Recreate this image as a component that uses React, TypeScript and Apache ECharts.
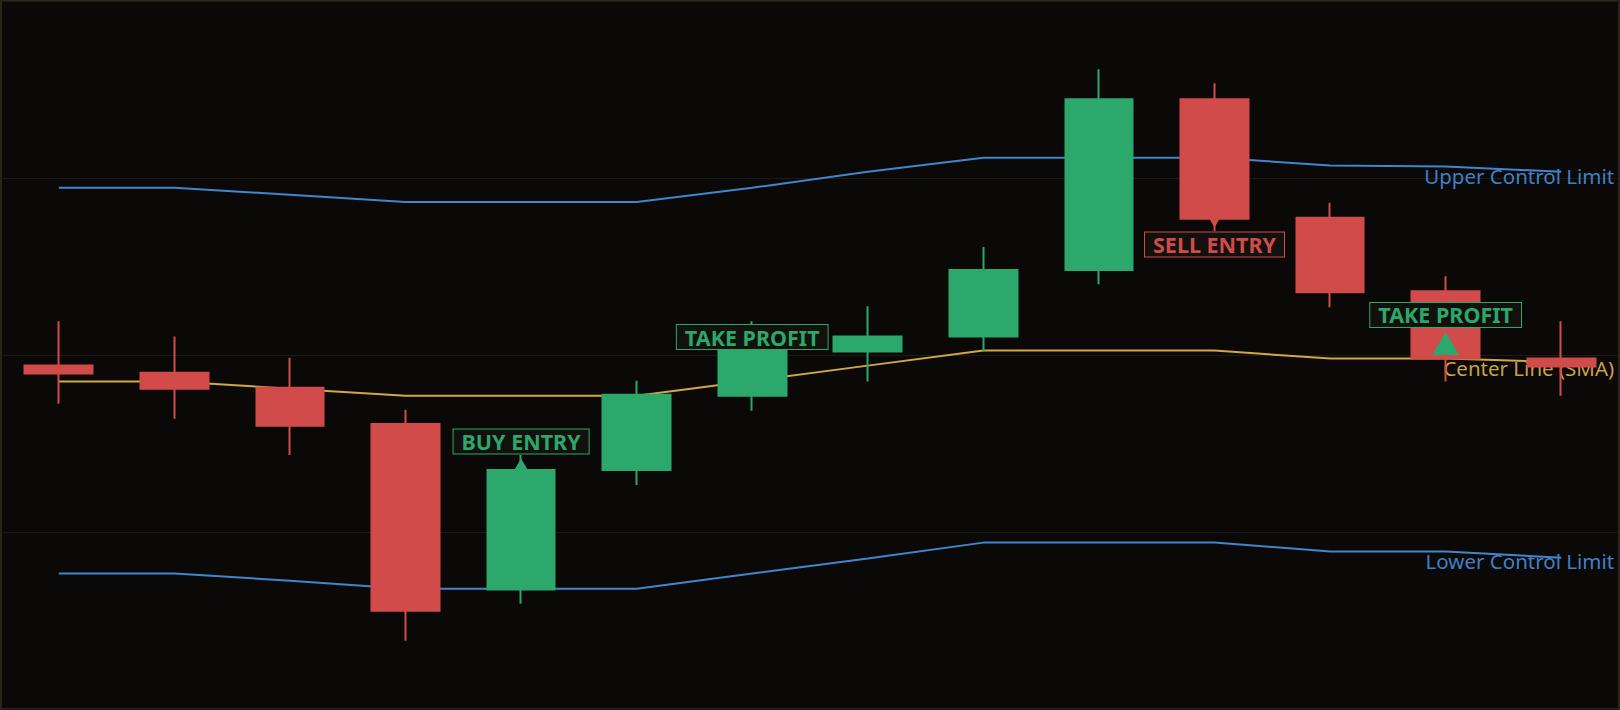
import React, { useEffect, useRef } from "react";
import * as echarts from "echarts";

// sessions (axis labels are hidden in the chart)
const sessions = [
  "S1", "S2", "S3", "S4", "S5", "S6", "S7",
  "S8", "S9", "S10", "S11", "S12", "S13", "S14",
];

// candles as [open, close, low, high]
const candles = [
  [99.88, 99.79, 99.45, 100.38],
  [99.8, 99.62, 99.28, 100.21],
  [99.63, 99.2, 98.87, 99.97],
  [99.22, 97.11, 96.77, 99.38],
  [97.35, 98.7, 97.19, 98.87],
  [98.7, 99.55, 98.53, 99.71],
  [99.54, 100.05, 99.37, 100.38],
  [100.04, 100.21, 99.7, 100.55],
  [100.21, 100.96, 100.04, 101.22],
  [100.96, 102.89, 100.8, 103.23],
  [102.89, 101.54, 101.4, 103.07],
  [101.55, 100.71, 100.54, 101.72],
  [100.72, 99.96, 99.7, 100.89],
  [99.96, 99.87, 99.54, 100.38],
];

const upperLimit = [
  101.89, 101.89, 101.81, 101.73, 101.73, 101.73, 101.89,
  102.07, 102.23, 102.23, 102.23, 102.14, 102.13, 102.07,
];
const centerLine = [
  99.7, 99.7, 99.62, 99.54, 99.54, 99.54, 99.71,
  99.88, 100.05, 100.05, 100.05, 99.96, 99.96, 99.92,
];
const lowerLimit = [
  97.53, 97.53, 97.45, 97.36, 97.36, 97.36, 97.53,
  97.7, 97.88, 97.88, 97.88, 97.78, 97.78, 97.71,
];

// trade signals: session index, price, label, direction
const signalIndex = [4, 6, 10, 12];
const signalPrice = [98.7, 99.88, 101.57, 100.13];
const signalText = ["BUY ENTRY", "TAKE PROFIT", "SELL ENTRY", "TAKE PROFIT"];
const signalUp = [true, true, false, true];

const GREEN = "#2ca86c";
const RED = "#d14b4b";
const BLUE = "#4086ce";
const GOLD = "#d2a840";
const FONT = "'Noto Sans', 'Open Sans', sans-serif";

const App: React.FC = () => {
  const chartRef = useRef<HTMLDivElement | null>(null);

  useEffect(() => {
    if (!chartRef.current) return;
    const chart = echarts.init(chartRef.current, undefined, { renderer: "svg" });

    const limitSeries = (name: string, data: number[], color: string, textColor: string, offsetY: number) => ({
      name,
      type: "line",
      data,
      symbol: "none",
      z: 1,
      lineStyle: { color, width: 2 },
      endLabel: {
        show: true,
        formatter: name,
        align: "right",
        distance: 0,
        offset: [53, offsetY],
        color: textColor,
        fontFamily: FONT,
        fontSize: 20.5,
      },
    });

    const option = {
      animation: false,
      backgroundColor: "#0a0908",
      grid: {
        left: 1,
        right: 1,
        top: 1,
        bottom: 1,
        show: true,
        borderColor: "#2b2519",
        borderWidth: 2,
        backgroundColor: "transparent",
      },
      xAxis: {
        type: "category",
        data: sessions,
        axisLine: { show: false },
        axisTick: { show: false },
        axisLabel: { show: false },
        splitLine: { show: false },
      },
      yAxis: {
        type: "value",
        min: 96,
        max: 104,
        interval: 2,
        axisLine: { show: false },
        axisTick: { show: false },
        axisLabel: { show: false },
        splitLine: { lineStyle: { color: "#1d1a16", width: 1 } },
      },
      series: [
        limitSeries("Upper Control Limit", upperLimit, BLUE, "#3f80c6", 4),
        limitSeries("Center Line (SMA)", centerLine, GOLD, "#c9a242", 6),
        limitSeries("Lower Control Limit", lowerLimit, BLUE, "#3f80c6", 3),
        {
          name: "Price",
          type: "candlestick",
          data: candles,
          barWidth: "59%",
          z: 2,
          itemStyle: {
            color: GREEN,
            color0: RED,
            borderColor: GREEN,
            borderColor0: RED,
            borderWidth: 2,
          },
        },
        {
          name: "Signals",
          type: "scatter",
          z: 3,
          symbol: "triangle",
          symbolSize: [27, 23],
          itemStyle: { opacity: 1 },
          data: signalIndex.map((idx, i) => {
            const color = signalUp[i] ? GREEN : RED;
            return {
              value: [idx, signalPrice[i]],
              symbolRotate: signalUp[i] ? 0 : 180,
              itemStyle: { color, opacity: 1 },
              label: {
                show: true,
                formatter: signalText[i],
                position: signalUp[i] ? "top" : "bottom",
                distance: 5,
                color,
                opacity: 1,
                fontFamily: FONT,
                fontSize: 21.5,
                fontWeight: "bold",
                lineHeight: 22,
                backgroundColor: "#13110d",
                borderColor: color,
                borderWidth: 1,
                padding: [1, 8],
              },
            };
          }),
        },
      ],
    };

    chart.setOption(option);

    const handleResize = () => chart.resize();
    window.addEventListener("resize", handleResize);
    return () => {
      window.removeEventListener("resize", handleResize);
      chart.dispose();
    };
  }, []);

  return (
    <div
      style={{
        position: "fixed",
        left: 0,
        top: 0,
        width: "100vw",
        height: "100vh",
        background: "#0a0908",
      }}
    >
      <div ref={chartRef} style={{ width: "100%", height: "100%" }} />
    </div>
  );
};

export default App;
